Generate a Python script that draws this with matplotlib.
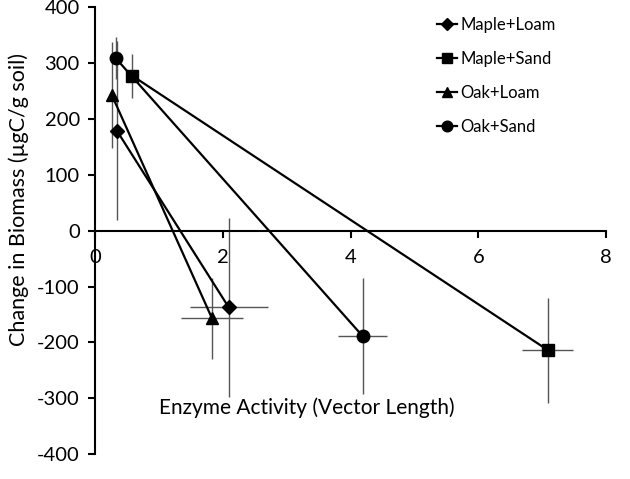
import matplotlib.pyplot as plt
import numpy as np

plt.rcParams['font.family'] = ['Lato', 'DejaVu Sans']
plt.rcParams['axes.unicode_minus'] = False

labels = ['Maple+Loam', 'Maple+Sand', 'Oak+Loam', 'Oak+Sand']
markers = ['D', 's', '^', 'o']
msizes = [7, 8.5, 8.5, 9]

# enzyme activity (x) and biomass change (y), start / end points
x_vals = [[0.34, 2.09], [0.585, 7.09], [0.26, 1.83], [0.32, 4.19]]
y_vals = [[179, -137], [277, -214], [243, -157], [309, -189]]
x_err = [[0.03, 0.61], [0.05, 0.40], [0.03, 0.49], [0.03, 0.38]]
y_err = [[160, 160], [40, 94], [95, 72], [37, 104]]

fig = plt.figure(figsize=(6.3, 4.79), dpi=100)
ax = fig.add_axes([0.151, 0.052, 0.811, 0.933])

for i in range(len(labels)):
    ax.errorbar(x_vals[i], y_vals[i], xerr=x_err[i], yerr=y_err[i],
                fmt='none', ecolor='#555555', elinewidth=1.0, capsize=0, zorder=2)
    ax.plot(x_vals[i], y_vals[i], color='black', linewidth=1.6,
            marker=markers[i], markersize=msizes[i], label=labels[i], zorder=3)

ax.set_xlim(0, 8)
ax.set_ylim(-400, 400)
ax.set_xticks([0, 2, 4, 6, 8])
ax.set_yticks(np.arange(-400, 401, 100))
ax.spines['left'].set_position(('data', 0))
ax.spines['bottom'].set_position(('data', 0))
ax.spines['top'].set_visible(False)
ax.spines['right'].set_visible(False)
for s in ['left', 'bottom']:
    ax.spines[s].set_linewidth(1.5)
ax.tick_params(axis='both', direction='out', length=5, width=1.5, labelsize=14.5)
ax.tick_params(axis='x', pad=8)
ax.tick_params(axis='y', pad=6)

leg = ax.legend(loc='upper left', bbox_to_anchor=(0.64, 1.012), frameon=False,
                fontsize=12, labelspacing=1.08, handlelength=1.2, handletextpad=0.2,
                markerscale=0.85)

fig.text(0.487, 1 - 408 / 479, 'Enzyme Activity (Vector Length)', ha='center', va='center', fontsize=15)
fig.text(0.03, 1 - 200 / 479, 'Change in Biomass (µgC/g soil)', ha='center', va='center',
         rotation=90, fontsize=15.5)

fig.savefig('out.png', dpi=100)
